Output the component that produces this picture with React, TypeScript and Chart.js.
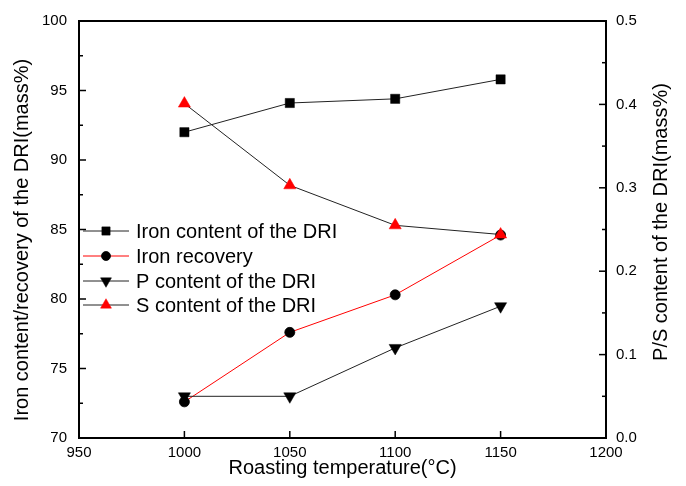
import React, { useEffect, useRef } from 'react';
import { Chart, registerables } from 'chart.js';
import { drawPoint } from 'chart.js/helpers';

Chart.register(...registerables);

// ---- data ----
const temperatures = [1000, 1050, 1100, 1150];
const ironContent = [92.0, 94.1, 94.4, 95.8];
const ironRecovery = [72.6, 77.6, 80.3, 84.6];
const pContent = [0.05, 0.05, 0.108, 0.158];
const sContent = [0.401, 0.303, 0.255, 0.244];
const seriesNames = [
  'Iron content of the DRI',
  'Iron recovery',
  'P content of the DRI',
  'S content of the DRI',
];
const xTitle = 'Roasting temperature(°C)';
const yLeftTitle = 'Iron content/recovery of the DRI(mass%)';
const yRightTitle = 'P/S content of the DRI(mass%)';
const xRange = [950, 1200];
const yLeftRange = [70, 100];
const yRightRange = [0, 0.5];
const yLeftMinorTicks = [72.5, 77.5, 82.5, 87.5, 92.5, 97.5];
const yRightMinorTicks = [0.05, 0.15, 0.25, 0.35, 0.45];

const FONT = "'Liberation Sans', Arial, sans-serif";

const toPts = (ys: number[]) => temperatures.map((x, i) => ({ x, y: ys[i] }));

const originPlugin = {
  id: 'originStyle',
  afterDraw(chart: any) {
    const ctx = chart.ctx as CanvasRenderingContext2D;
    const { left, right, top, bottom } = chart.chartArea;
    const xs = chart.scales.x;
    const ys = chart.scales.y;
    const ys2 = chart.scales.y2;
    const major = 7;
    const minor = 4;
    ctx.save();
    ctx.strokeStyle = '#000';
    ctx.lineWidth = 2;
    // top frame line
    ctx.beginPath();
    ctx.moveTo(left - 1, top);
    ctx.lineTo(right + 1, top);
    ctx.stroke();
    ctx.lineWidth = 1.5;
    const line = (x1: number, y1: number, x2: number, y2: number) => {
      ctx.beginPath();
      ctx.moveTo(x1, y1);
      ctx.lineTo(x2, y2);
      ctx.stroke();
    };
    xs.ticks.forEach((t: any) => {
      const px = xs.getPixelForValue(t.value);
      if (px > left + 2 && px < right - 2) line(px, bottom, px, bottom - major);
    });
    ys.ticks.forEach((t: any) => {
      const py = ys.getPixelForValue(t.value);
      if (py > top + 2 && py < bottom - 2) line(left, py, left + major, py);
    });
    yLeftMinorTicks.forEach((v) => {
      const py = ys.getPixelForValue(v);
      line(left, py, left + minor, py);
    });
    ys2.ticks.forEach((t: any) => {
      const py = ys2.getPixelForValue(t.value);
      if (py > top + 2 && py < bottom - 2) line(right, py, right - major, py);
    });
    yRightMinorTicks.forEach((v) => {
      const py = ys2.getPixelForValue(v);
      line(right, py, right - minor, py);
    });

    // axis titles (both read bottom-to-top)
    ctx.fillStyle = '#000';
    ctx.font = `20px ${FONT}`;
    ctx.textAlign = 'center';
    ctx.textBaseline = 'middle';
    ctx.save();
    ctx.translate(22, 240);
    ctx.rotate(-Math.PI / 2);
    ctx.fillText(yLeftTitle, 0, 0);
    ctx.restore();
    ctx.save();
    ctx.translate(661, 222);
    ctx.rotate(-Math.PI / 2);
    ctx.fillText(yRightTitle, 0, 0);
    ctx.restore();

    // legend inside plot
    const rowY = [231, 256, 281, 305];
    chart.data.datasets.forEach((ds: any, i: number) => {
      const yy = rowY[i];
      ctx.strokeStyle = ds.borderColor;
      ctx.lineWidth = 1;
      line(83, yy, 129, yy);
      ctx.fillStyle = ds.pointBackgroundColor;
      ctx.strokeStyle = ds.pointBorderColor;
      ctx.lineWidth = ds.pointBorderWidth;
      drawPoint(ctx, {
        pointStyle: ds.pointStyle,
        rotation: ds.pointRotation || 0,
        radius: ds.pointRadius * 0.9,
        borderWidth: ds.pointBorderWidth,
      } as any, 106, yy);
      ctx.fillStyle = '#000';
      ctx.font = `20px ${FONT}`;
      ctx.textAlign = 'left';
      ctx.textBaseline = 'middle';
      ctx.fillText(seriesNames[i], 136, yy + 1);
    });
    ctx.restore();
  },
};

export default function App() {
  const ref = useRef<HTMLCanvasElement | null>(null);
  useEffect(() => {
    if (!ref.current) return;
    const chart = new Chart(ref.current, {
      type: 'line',
      data: {
        datasets: [
          {
            label: seriesNames[0],
            data: toPts(ironContent),
            yAxisID: 'y',
            borderColor: '#222',
            borderWidth: 1,
            pointStyle: 'rect',
            pointRadius: 6.5,
            pointBackgroundColor: '#000',
            pointBorderColor: '#000',
            pointBorderWidth: 0.5,
            order: 3,
          },
          {
            label: seriesNames[1],
            data: toPts(ironRecovery),
            yAxisID: 'y',
            borderColor: '#ff0000',
            borderWidth: 1,
            pointStyle: 'circle',
            pointRadius: 5,
            pointBackgroundColor: '#000',
            pointBorderColor: '#000',
            pointBorderWidth: 0.8,
            order: 2,
          },
          {
            label: seriesNames[2],
            data: toPts(pContent),
            yAxisID: 'y2',
            borderColor: '#222',
            borderWidth: 1,
            pointStyle: 'triangle',
            pointRotation: 180,
            pointRadius: 7,
            pointBackgroundColor: '#000',
            pointBorderColor: '#000',
            pointBorderWidth: 0.5,
            order: 1,
          },
          {
            label: seriesNames[3],
            data: toPts(sContent),
            yAxisID: 'y2',
            borderColor: '#222',
            borderWidth: 1,
            pointStyle: 'triangle',
            pointRadius: 7,
            pointBackgroundColor: '#ff0000',
            pointBorderColor: '#ff0000',
            pointBorderWidth: 0.5,
            order: 0,
          },
        ] as any,
      },
      options: {
        animation: false,
        responsive: false,
        maintainAspectRatio: false,
        layout: { padding: { top: 18, left: 0, right: 0, bottom: 0 } },
        plugins: { legend: { display: false }, tooltip: { enabled: false } },
        elements: { line: { tension: 0 } },
        scales: {
          x: {
            type: 'linear',
            position: 'bottom',
            min: xRange[0],
            max: xRange[1],
            grid: { display: false, drawTicks: false },
            border: { display: true, color: '#000', width: 2 },
            ticks: {
              stepSize: 50,
              padding: 6,
              color: '#000',
              font: { family: FONT, size: 15 },
              maxRotation: 0,
              callback: (v: any) => String(v),
            },
            title: {
              display: true,
              text: xTitle,
              color: '#000',
              font: { family: FONT, size: 20 },
              padding: { top: 0, bottom: 6 },
            },
            afterFit: (s: any) => {
              s.height = 48;
            },
          },
          y: {
            type: 'linear',
            position: 'left',
            min: yLeftRange[0],
            max: yLeftRange[1],
            grid: { display: false, drawTicks: false },
            border: { display: true, color: '#000', width: 2 },
            ticks: {
              stepSize: 5,
              padding: 12,
              color: '#000',
              font: { family: FONT, size: 15 },
            },
            afterFit: (s: any) => {
              s.width = 79;
            },
          },
          y2: {
            type: 'linear',
            position: 'right',
            min: yRightRange[0],
            max: yRightRange[1],
            grid: { display: false, drawTicks: false },
            border: { display: true, color: '#000', width: 2 },
            ticks: {
              stepSize: 0.1,
              padding: 10,
              color: '#000',
              font: { family: FONT, size: 15 },
              callback: (v: any) => Number(v).toFixed(1),
            },
            afterFit: (s: any) => {
              s.width = 80;
            },
          },
        },
      } as any,
      plugins: [originPlugin],
    });
    return () => chart.destroy();
  }, []);
  return (
    <div style={{ position: 'absolute', left: 0, top: 0, width: 686, height: 486, background: '#fff' }}>
      <canvas ref={ref} width={686} height={486} style={{ display: 'block' }} />
    </div>
  );
}
